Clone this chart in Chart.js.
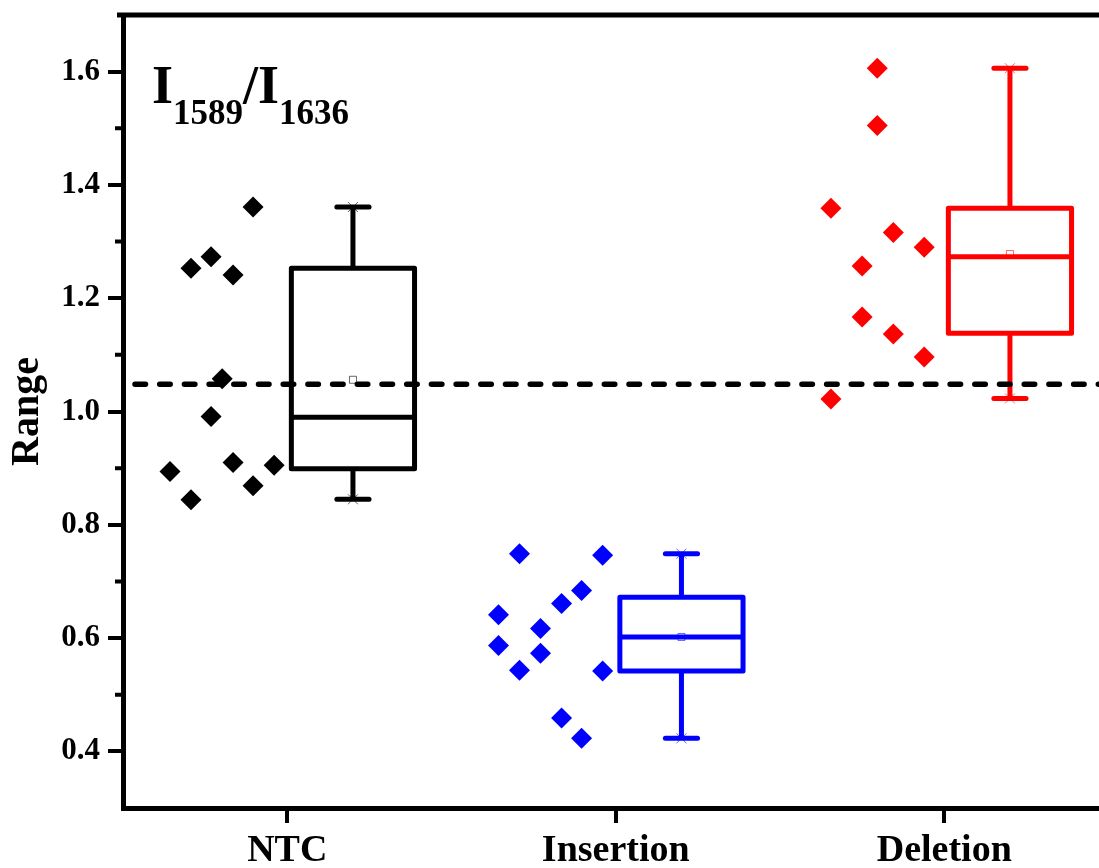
<!DOCTYPE html>
<html>
<head>
<meta charset="utf-8">
<script src="https://cdn.jsdelivr.net/npm/chart.js@4/dist/chart.umd.min.js"></script>
<style>
html, body { margin: 0; padding: 0; background: #fff; overflow: hidden; }
#wrap { width: 1119px; height: 868px; }
</style>
</head>
<body>
<div id="wrap"><canvas id="boxChart" width="1119" height="868"></canvas></div>
<script>
var categories = ["NTC", "Insertion", "Deletion"];
var yTickValues = [0.4, 0.6, 0.8, 1.0, 1.2, 1.4, 1.6];
var yTickLabels = ["0.4", "0.6", "0.8", "1.0", "1.2", "1.4", "1.6"];
var yMinorTicks = [0.5, 0.7, 0.9, 1.1, 1.3, 1.5];
var seriesColors = ["#000000", "#0000ff", "#ff0000"];

// raw points (x = jittered position left of each category)
var ntcX = [0.896, 0.768, 0.707, 0.835, 0.802, 0.768, 0.835, 0.960, 0.643, 0.896, 0.707];
var ntcY = [1.361, 1.273, 1.253, 1.241, 1.058, 0.991, 0.910, 0.905, 0.894, 0.869, 0.844];
var insX = [1.707, 1.960, 1.896, 1.835, 1.643, 1.771, 1.643, 1.771, 1.707, 1.960, 1.835, 1.896];
var insY = [0.749, 0.746, 0.684, 0.661, 0.641, 0.617, 0.587, 0.573, 0.543, 0.542, 0.459, 0.423];
var delX = [2.796, 2.796, 2.655, 2.845, 2.939, 2.750, 2.750, 2.845, 2.939, 2.655];
var delY = [1.606, 1.505, 1.359, 1.316, 1.290, 1.257, 1.167, 1.137, 1.096, 1.022];

// box statistics per category
var boxMin    = [0.845, 0.423, 1.023];
var boxQ1     = [0.899, 0.542, 1.138];
var boxMedian = [0.990, 0.602, 1.273];
var boxQ3     = [1.253, 0.672, 1.359];
var boxMax    = [1.361, 0.749, 1.606];
var boxMean   = [1.056, 0.602, 1.278];

var refLine = 1.048;

var BOX_OFFSET = 0.2;
var BOX_WIDTH = 0.375;
var CAP_WIDTH = 0.098;
var SERIF = "'Liberation Serif', 'Times New Roman', serif";

function toPoints(xs, ys) {
    var pts = [];
    for (var i = 0; i < xs.length; i++) {
        pts.push({ x: xs[i], y: ys[i] });
    }
    return pts;
}

var boxPlugin = {
    id: 'boxes',
    afterDatasetsDraw: function (chart) {
        var ctx = chart.ctx;
        var xs = chart.scales.x;
        var ys = chart.scales.y;
        var area = chart.chartArea;
        ctx.save();
        ctx.lineJoin = 'round';

        categories.forEach(function (cat, i) {
            var c = i + 1 + BOX_OFFSET;
            var cx = xs.getPixelForValue(c);
            var left = xs.getPixelForValue(c - BOX_WIDTH / 2);
            var right = xs.getPixelForValue(c + BOX_WIDTH / 2);
            var capL = xs.getPixelForValue(c - CAP_WIDTH / 2);
            var capR = xs.getPixelForValue(c + CAP_WIDTH / 2);
            var yMin = ys.getPixelForValue(boxMin[i]);
            var yQ1 = ys.getPixelForValue(boxQ1[i]);
            var yMed = ys.getPixelForValue(boxMedian[i]);
            var yQ3 = ys.getPixelForValue(boxQ3[i]);
            var yMax = ys.getPixelForValue(boxMax[i]);
            var yMean = ys.getPixelForValue(boxMean[i]);

            ctx.strokeStyle = seriesColors[i];
            ctx.lineWidth = 5;
            ctx.lineCap = 'butt';
            ctx.beginPath();
            ctx.moveTo(cx, yQ3); ctx.lineTo(cx, yMax);
            ctx.moveTo(cx, yQ1); ctx.lineTo(cx, yMin);
            ctx.stroke();

            ctx.lineCap = 'round';
            ctx.beginPath();
            ctx.moveTo(capL, yMax); ctx.lineTo(capR, yMax);
            ctx.moveTo(capL, yMin); ctx.lineTo(capR, yMin);
            ctx.stroke();

            ctx.strokeRect(left, yQ3, right - left, yQ1 - yQ3);
            ctx.lineCap = 'butt';
            ctx.beginPath();
            ctx.moveTo(left, yMed); ctx.lineTo(right, yMed);
            ctx.stroke();

            // mean marker
            ctx.lineWidth = 1;
            ctx.globalAlpha = 0.6;
            ctx.strokeRect(cx - 3.5, yMean - 3.5, 7, 7);
            // min / max crosses
            ctx.beginPath();
            [yMin, yMax].forEach(function (yy) {
                ctx.moveTo(cx - 5, yy - 5); ctx.lineTo(cx + 5, yy + 5);
                ctx.moveTo(cx + 5, yy - 5); ctx.lineTo(cx - 5, yy + 5);
            });
            ctx.stroke();
            ctx.globalAlpha = 1;
        });

        // dashed reference line
        var yRef = ys.getPixelForValue(refLine);
        ctx.strokeStyle = '#000';
        ctx.lineWidth = 5.5;
        ctx.lineCap = 'round';
        ctx.setLineDash([10.5, 14.2]);
        ctx.beginPath();
        ctx.moveTo(area.left + 12, yRef);
        ctx.lineTo(area.right, yRef);
        ctx.stroke();
        ctx.setLineDash([]);

        // top frame
        ctx.lineCap = 'butt';
        ctx.lineWidth = 5;
        ctx.beginPath();
        ctx.moveTo(area.left - 6, area.top);
        ctx.lineTo(area.right, area.top);
        ctx.stroke();

        // minor y ticks
        ctx.lineWidth = 4;
        ctx.beginPath();
        yMinorTicks.forEach(function (v) {
            var yy = ys.getPixelForValue(v);
            ctx.moveTo(area.left - 8, yy);
            ctx.lineTo(area.left, yy);
        });
        ctx.stroke();

        // label I1589/I1636
        ctx.fillStyle = '#000';
        ctx.textBaseline = 'alphabetic';
        ctx.textAlign = 'left';
        var tx = area.left + 29;
        var baseY = area.top + 88;
        var subY = area.top + 109;
        var parts = [["I", 54, baseY], ["1589", 35, subY], ["/", 54, baseY], ["I", 54, baseY], ["1636", 35, subY]];
        parts.forEach(function (p) {
            ctx.font = 'bold ' + p[1] + 'px ' + SERIF;
            ctx.fillText(p[0], tx, p[2]);
            tx += ctx.measureText(p[0]).width;
        });

        ctx.restore();
    }
};

var ctx = document.getElementById("boxChart").getContext('2d');
var boxChart = new Chart(ctx, {
    type: 'scatter',
    data: {
        datasets: [
            { label: categories[0], data: toPoints(ntcX, ntcY), backgroundColor: seriesColors[0] },
            { label: categories[1], data: toPoints(insX, insY), backgroundColor: seriesColors[1] },
            { label: categories[2], data: toPoints(delX, delY), backgroundColor: seriesColors[2] }
        ]
    },
    options: {
        responsive: false,
        animation: false,
        devicePixelRatio: 1,
        layout: { padding: { top: 15, right: 4, left: 0, bottom: 0 } },
        elements: {
            point: { pointStyle: 'rectRot', radius: 10.5, hoverRadius: 10.5, borderWidth: 0 }
        },
        plugins: {
            legend: { display: false },
            tooltip: { enabled: false }
        },
        scales: {
            x: {
                type: 'linear',
                min: 0.5,
                max: 3.5,
                afterBuildTicks: function (scale) {
                    scale.ticks = categories.map(function (c, i) { return { value: i + 1 }; });
                },
                afterFit: function (scale) {
                    scale.height = 60;
                    scale.paddingLeft = 0;
                    scale.paddingRight = 0;
                },
                ticks: {
                    callback: function (value, index) { return categories[index]; },
                    color: '#000',
                    font: { family: SERIF, size: 38, weight: 'bold' },
                    padding: 5,
                    maxRotation: 0
                },
                grid: { drawOnChartArea: false, drawTicks: true, tickLength: 15, lineWidth: 4, color: '#000' },
                border: { display: true, width: 5, color: '#000' }
            },
            y: {
                type: 'linear',
                min: 0.3,
                max: 1.7,
                afterBuildTicks: function (scale) {
                    scale.ticks = yTickValues.map(function (v) { return { value: v }; });
                },
                afterFit: function (scale) {
                    scale.width = 123;
                    scale.paddingTop = 0;
                    scale.paddingBottom = 0;
                },
                ticks: {
                    callback: function (value, index) { return yTickLabels[index]; },
                    color: '#000',
                    font: { family: SERIF, size: 31, weight: 'bold' },
                    padding: 8
                },
                grid: { drawOnChartArea: false, drawTicks: true, tickLength: 15, lineWidth: 4, color: '#000' },
                border: { display: true, width: 5, color: '#000' },
                title: {
                    display: true,
                    text: 'Range',
                    color: '#000',
                    font: { family: SERIF, size: 40, weight: 'bold' },
                    padding: { top: 4, bottom: 0 }
                }
            }
        }
    },
    plugins: [boxPlugin]
});
</script>
</body>
</html>
